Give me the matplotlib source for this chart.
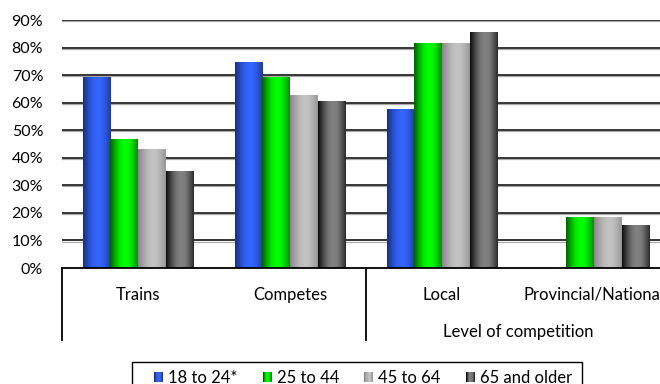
import numpy as np
import matplotlib
matplotlib.use("Agg")
import matplotlib.pyplot as plt
from matplotlib.patches import Patch, Rectangle
from matplotlib.legend_handler import HandlerBase
from matplotlib.colors import to_rgb
import matplotlib.transforms as mtransforms

plt.rcParams['font.family'] = ['Lato', 'DejaVu Sans']

categories = ["Trains", "Competes", "Local", "Provincial/National"]
group_label = "Level of competition"
series_names = ["18 to 24*", "25 to 44", "45 to 64", "65 and older"]
age_18_24 = [69.3, 74.4, 57.6, np.nan]
age_25_44 = [46.7, 69.3, 81.6, 18.4]
age_45_64 = [43.1, 62.7, 81.6, 18.4]
age_65_up = [35.1, 60.5, 85.3, 15.5]
series_values = [age_18_24, age_25_44, age_45_64, age_65_up]
yticks = list(range(0, 91, 10))
ytick_labels = [f"{v}%" for v in yticks]

# gradient stops: (left dark, bright, right dark)
grad_stops = [
    ("#1a2e7c", "#3366ff", "#1f3b95"),
    ("#005e00", "#00ff00", "#008a00"),
    ("#858585", "#c2c2c2", "#969696"),
    ("#0c0c0c", "#828282", "#2a2a2a"),
]


def grad_row(stops, n=80, p=0.55):
    l, m, r = (np.array(to_rgb(c)) for c in stops)
    t = np.linspace(0, 1, n)
    out = np.zeros((n, 3))
    for i, ti in enumerate(t):
        if ti <= p:
            s = np.sin(np.pi / 2 * ti / p)
            out[i] = l + (m - l) * s
        else:
            s = np.sin(np.pi / 2 * (1 - ti) / (1 - p))
            out[i] = r + (m - r) * s
    return out


W, H = 660, 384
fig = plt.figure(figsize=(W / 100, H / 100), dpi=100)
ax = fig.add_axes([62 / W, (H - 268) / H, 608 / W, 248 / H])

n = len(series_names)
bw = 0.1825
x = np.arange(len(categories))

# gridlines with soft shadow
for v in yticks[1:]:
    ax.axhline(v - 0.42, color="#a9a9a9", lw=0.9, zorder=1)
    ax.axhline(v, color="black", lw=1.1, zorder=1.1)

for i, vals in enumerate(series_values):
    offs = (i - (n - 1) / 2) * bw
    bars = ax.bar(x + offs, vals, width=bw, color=grad_stops[i][1],
                  linewidth=0, zorder=2)
    row = grad_row(grad_stops[i])[None, :, :]
    for b in bars:
        h = b.get_height()
        if not np.isfinite(h) or h <= 0:
            continue
        x0 = b.get_x()
        ax.imshow(row, extent=[x0, x0 + b.get_width(), 0, h],
                  aspect="auto", interpolation="bilinear", zorder=3)

ax.set_xlim(-0.5, len(categories) - 0.5)
ax.set_ylim(0, 90)
ax.set_yticks(yticks)
ax.set_yticklabels(ytick_labels, fontsize=11.5)
ax.tick_params(axis="y", length=0, pad=13.5)
ax.set_xticks([])
for s in ["left", "right", "top"]:
    ax.spines[s].set_visible(False)
ax.spines["bottom"].set_linewidth(1.3)
ax.spines["bottom"].set_color("black")
ax.spines["bottom"].set_zorder(5)

# multi-level category axis
bt = mtransforms.blended_transform_factory(ax.transData, ax.transAxes)
for xv in [-0.5, 1.5]:
    ax.plot([xv, xv], [0, -72 / 248], color="black", lw=1.3,
            transform=bt, clip_on=False)
for xi, c in zip(x, categories):
    ax.text(xi, -27 / 248, c, transform=bt, ha="center", va="center",
            fontsize=12, clip_on=False)
ax.text(2.5, -64 / 248, group_label, transform=bt, ha="center",
        va="center", fontsize=12, clip_on=False)


class HandlerGrad(HandlerBase):
    def __init__(self, stops):
        super().__init__()
        self.stops = stops

    def create_artists(self, legend, orig_handle, xdescent, ydescent,
                       width, height, fontsize, trans):
        cols = grad_row(self.stops, n=8)
        arts = []
        sw = width / len(cols)
        for k, c in enumerate(cols):
            r = Rectangle((-xdescent + k * sw, -ydescent), sw * 1.05, height,
                          facecolor=c, edgecolor="none", transform=trans)
            arts.append(r)
        return arts


handles = [Patch(facecolor=s[1]) for s in grad_stops]
hmap = {h: HandlerGrad(s) for h, s in zip(handles, grad_stops)}
fig.legend(handles, series_names, handler_map=hmap, loc="upper left",
           bbox_to_anchor=(154 / W, 1 - 370 / H), ncol=4, frameon=False,
           fontsize=12, borderpad=0, borderaxespad=0, handlelength=0.55,
           handleheight=0.6, handletextpad=0.3, columnspacing=1.5)

fig.patches.append(Rectangle((132 / W, -0.1), 450 / W, 0.1 + (H - 362) / H,
                             transform=fig.transFigure, facecolor="none",
                             edgecolor="black", lw=1.0))

fig.savefig("out.png", dpi=100)
